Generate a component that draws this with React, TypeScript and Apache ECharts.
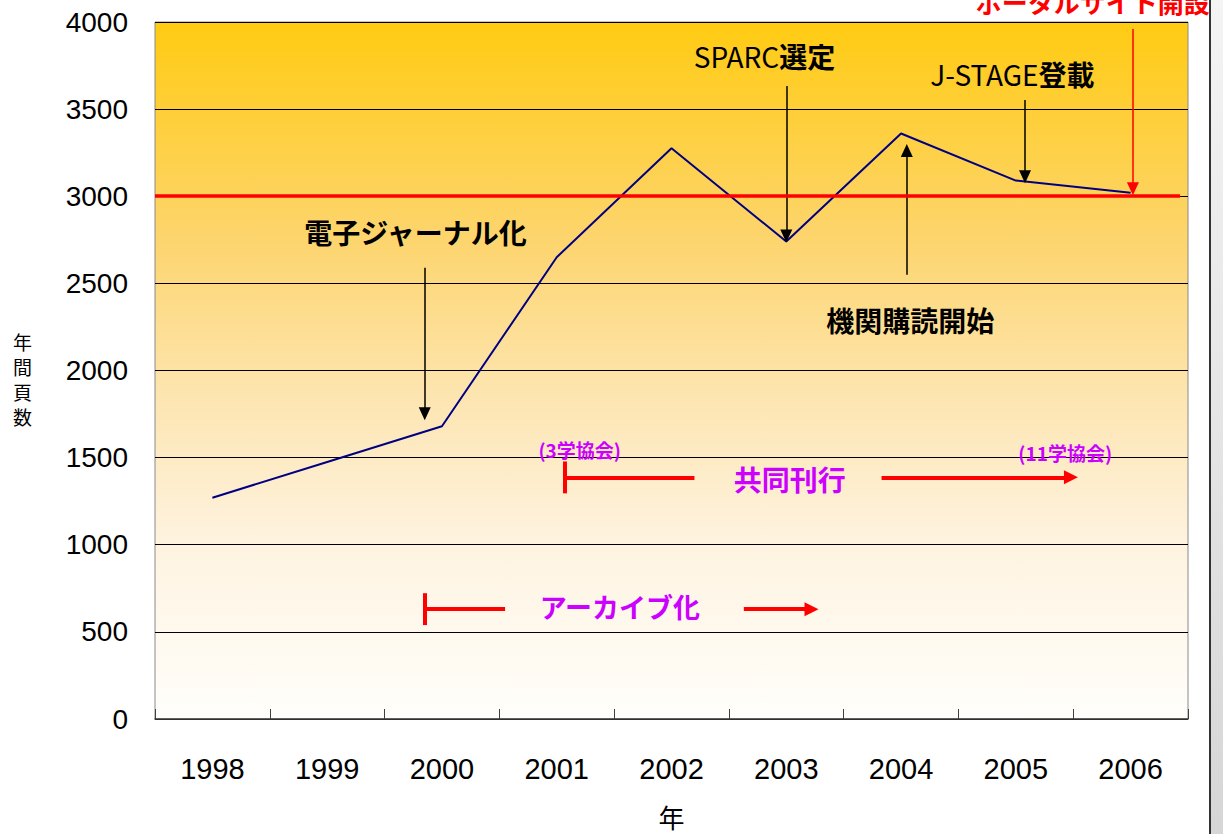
import React, { useEffect, useRef } from "react";
import * as echarts from "echarts";

// ---- data ----
const years = ["1998", "1999", "2000", "2001", "2002", "2003", "2004", "2005", "2006"];
const pages = [1270, 1475, 1680, 2650, 3275, 2740, 3360, 3090, 3020];
const yTicks = { min: 0, max: 4000, interval: 500 };
const targetLevel = 3000;

// annotation positions in data space (hidden x axis 0..9 spans the 9 category slots)
const blackArrows = [
  // [x, yFrom, yTo]
  [2.35, 2590, 1752],
  [5.5, 3633, 2772],
  [7.58, 3553, 3112],
  [6.55, 2550, 3262],
];
const portalArrow = [8.52, 3960, 3043];
const redBars = [
  // [x1, y1, x2, y2, hasHead]
  [3.57, 1295, 3.57, 1478, 0],
  [3.57, 1387, 4.7, 1387, 0],
  [6.33, 1387, 7.98, 1387, 1],
  [2.35, 539, 2.35, 722, 0],
  [2.35, 630, 3.05, 630, 0],
  [5.13, 630, 5.72, 630, 1],
];
const targetLineSpan = [0, 8.93];

const blackLabels = [
  { text: "電子ジャーナル化", x: 2.27, y: 2797 },
  { text: "機関購読開始", x: 6.58, y: 2292 },
];
const mixedLabels = [
  { latin: "SPARC", cjk: "選定", x: 5.31, y: 3805 },
  { latin: "J-STAGE", cjk: "登載", x: 7.47, y: 3702 },
];
const purpleLabels = [
  { text: "(3学協会)", x: 3.7, y: 1545, size: 19 },
  { text: "(11学協会)", x: 7.93, y: 1527, size: 19 },
  { text: "共同刊行", x: 5.53, y: 1375, size: 28 },
  { text: "アーカイブ化", x: 4.05, y: 648, size: 27 },
];
const redLabel = { text: "ポータルサイト開設", x: 8.17, y: 4118 };

const CJK = "'Noto Sans CJK JP', 'Noto Sans', sans-serif";
const NUM = "'Liberation Sans', Arial, sans-serif";
const noBorder = { textBorderWidth: 0, textBorderColor: "transparent", textShadowBlur: 0, opacity: 1 };

export default function App() {
  const ref = useRef<HTMLDivElement>(null);
  useEffect(() => {
    if (!ref.current) return;
    const chart = echarts.init(ref.current, null, { renderer: "svg" });

    const markData: any[] = [];
    blackArrows.forEach(([x, y1, y2]) => {
      markData.push([
        { coord: [x, y1], symbol: "none", lineStyle: { color: "#000", width: 1.5, type: "solid" } },
        { coord: [x, y2], symbol: "triangle", symbolSize: [12, 13] },
      ]);
    });
    markData.push([
      { coord: [portalArrow[0], portalArrow[1]], symbol: "none", lineStyle: { color: "#FF0000", width: 1.5, type: "solid" } },
      { coord: [portalArrow[0], portalArrow[2]], symbol: "triangle", symbolSize: [12, 13] },
    ]);
    redBars.forEach(([x1, y1, x2, y2, head]) => {
      markData.push([
        { coord: [x1, y1], symbol: "none", lineStyle: { color: "#FF0000", width: 4, type: "solid" } },
        { coord: [x2, y2], symbol: head ? "triangle" : "none", symbolSize: [14, 14] },
      ]);
    });
    markData.push([
      { coord: [targetLineSpan[0], targetLevel], symbol: "none", lineStyle: { color: "#FF0000", width: 3.5, type: "solid" } },
      { coord: [targetLineSpan[1], targetLevel], symbol: "none" },
    ]);

    const labelData: any[] = [];
    blackLabels.forEach((l) => {
      labelData.push({
        value: [l.x, l.y],
        label: { show: true, position: "inside", formatter: l.text, color: "#000", fontSize: 28, fontWeight: "bold", fontFamily: CJK, ...noBorder },
      });
    });
    mixedLabels.forEach((l) => {
      labelData.push({
        value: [l.x, l.y],
        label: {
          show: true,
          position: "inside",
          formatter: `{a|${l.latin}}{b|${l.cjk}}`,
          ...noBorder,
          rich: {
            a: { color: "#000", fontSize: 28, fontWeight: "normal", fontFamily: CJK, textBorderWidth: 0 },
            b: { color: "#000", fontSize: 28, fontWeight: "bold", fontFamily: CJK, textBorderWidth: 0 },
          },
        },
      });
    });
    purpleLabels.forEach((l) => {
      labelData.push({
        value: [l.x, l.y],
        label: { show: true, position: "inside", formatter: l.text, color: "#CC00FF", fontSize: l.size, fontWeight: "bold", fontFamily: CJK, ...noBorder },
      });
    });
    labelData.push({
      value: [redLabel.x, redLabel.y],
      label: { show: true, position: "inside", formatter: redLabel.text, color: "#FF0000", fontSize: 26, fontWeight: "bold", fontFamily: CJK, ...noBorder },
    });

    chart.setOption({
      animation: false,
      backgroundColor: "#ffffff",
      grid: {
        left: 155,
        top: 22,
        width: 1033,
        height: 698,
        show: true,
        borderColor: "#8a8a8a",
        borderWidth: 1,
        backgroundColor: {
          type: "linear",
          x: 0,
          y: 0,
          x2: 0,
          y2: 1,
          colorStops: [
            { offset: 0, color: "#FFCB12" },
            { offset: 0.3, color: "#FDD46A" },
            { offset: 0.55, color: "#FDE6B4" },
            { offset: 0.75, color: "#FEF3E0" },
            { offset: 1, color: "#FFFEFB" },
          ],
        },
      },
      xAxis: [
        {
          type: "category",
          data: years,
          boundaryGap: true,
          name: "年",
          nameLocation: "middle",
          nameGap: 84,
          nameTextStyle: { fontSize: 26, color: "#000", fontFamily: CJK },
          axisLine: { show: true, lineStyle: { color: "#404040", width: 1.5 } },
          axisTick: { show: true, inside: true, length: 10, lineStyle: { color: "#404040", width: 1 } },
          axisLabel: { fontSize: 29, color: "#000", margin: 35, fontFamily: NUM },
          splitLine: { show: false },
        },
        {
          type: "value",
          min: 0,
          max: 9,
          show: false,
          splitLine: { show: false },
        },
      ],
      yAxis: {
        type: "value",
        min: yTicks.min,
        max: yTicks.max,
        interval: yTicks.interval,
        axisLine: { show: false },
        axisTick: { show: false },
        axisLabel: { fontSize: 28, color: "#000", margin: 27, fontFamily: NUM, formatter: (v: number) => String(v) },
        splitLine: { show: true, lineStyle: { color: "#000", width: 1 } },
      },
      graphic: [
        {
          type: "text",
          left: 13,
          top: 329,
          style: { text: "年\n間\n頁\n数", fontSize: 19, lineHeight: 25, fill: "#000", fontFamily: CJK },
        },
        {
          type: "rect",
          shape: { x: 1211, y: 0, width: 12, height: 834 },
          style: {
            fill: {
              type: "linear", x: 0, y: 0, x2: 0, y2: 1,
              colorStops: [
                { offset: 0, color: "#F4F4F4" },
                { offset: 1, color: "#D6D6D6" },
              ],
            },
          },
        },
        {
          type: "line",
          shape: { x1: 1210, y1: 0, x2: 1210, y2: 834 },
          style: { stroke: "#333", lineWidth: 2 },
        },
      ],
      series: [
        {
          name: "年間頁数",
          type: "line",
          data: pages,
          xAxisIndex: 0,
          yAxisIndex: 0,
          symbol: "none",
          lineStyle: { color: "#000080", width: 2 },
          z: 3,
        },
        {
          name: "annotations",
          type: "scatter",
          xAxisIndex: 1,
          yAxisIndex: 0,
          symbolSize: 0,
          clip: false,
          itemStyle: { opacity: 1 },
          data: labelData,
          markLine: {
            silent: true,
            symbol: ["none", "none"],
            label: { show: false },
            emphasis: { disabled: true },
            data: markData,
          },
          z: 4,
        },
      ],
    });
    return () => chart.dispose();
  }, []);
  return <div ref={ref} style={{ position: "fixed", left: 0, top: 0, width: 1223, height: 834 }} />;
}
